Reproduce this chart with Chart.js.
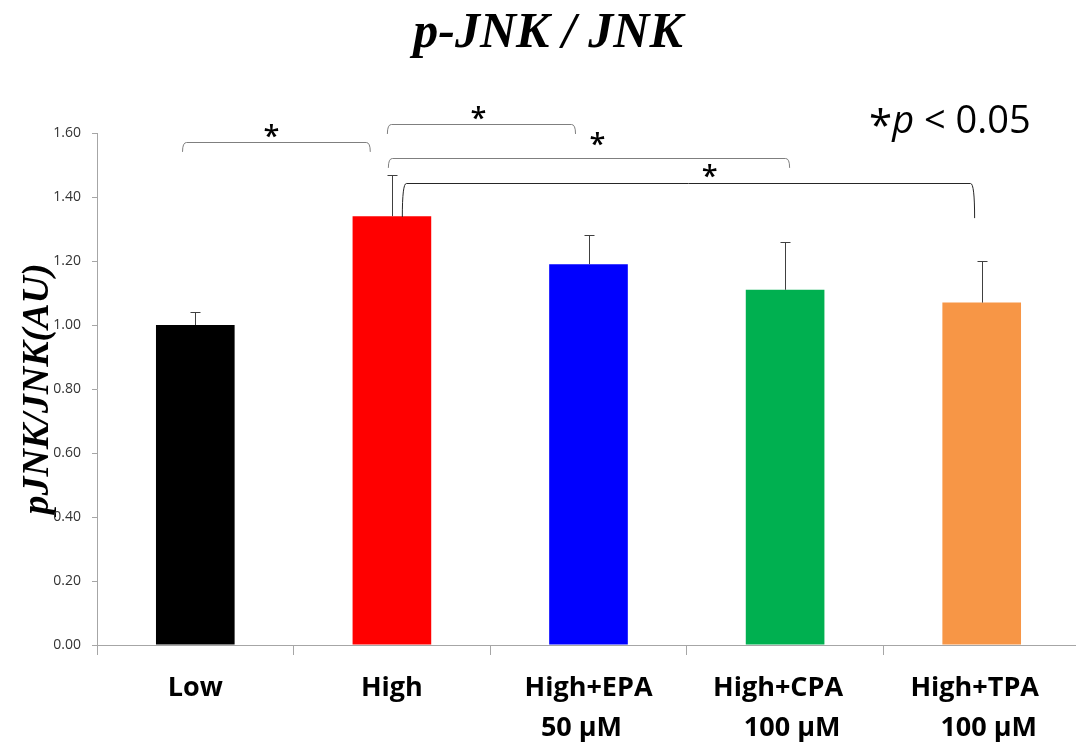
<!DOCTYPE html>
<html>
<head>
<meta charset="utf-8">
<script src="https://cdn.jsdelivr.net/npm/chart.js@4.4.1/dist/chart.umd.min.js"></script>
<style>
  html, body { margin: 0; padding: 0; background: #fff; overflow: hidden; }
  #wrap { width: 1100px; height: 747px; }
</style>
</head>
<body>
<div id="wrap"><canvas id="chart" width="1100" height="747"></canvas></div>
<script>
// categorias (los espacios desplazan cada linea como en la figura)
const categories = [
  ['Low'],
  ['High'],
  ['High+EPA', '50 µM  '],
  ['High+CPA  ', '  100 µM'],
  ['High+TPA  ', '  100 µM']
];
const values = [1.00, 1.34, 1.19, 1.11, 1.07];
const errors = [0.04, 0.13, 0.09, 0.15, 0.13];
const barColors = ['#000000', '#ff0000', '#0000ff', '#00b050', '#f79646'];
const yTicks = [0, 0.2, 0.4, 0.6, 0.8, 1.0, 1.2, 1.4, 1.6];

// corchetes de significancia: x en indice de categoria, y en unidades del eje
const brackets = [
  { from: -0.065, to: 0.89, y: 1.572, leftEnd: 1.541, rightEnd: 1.541, starX: 0.387, starY: 1.61, color: '#7f7f7f' },
  { from: 0.977, to: 1.934, y: 1.628, leftEnd: 1.597, rightEnd: 1.597, starX: 1.44, starY: 1.666, color: '#7f7f7f' },
  { from: 0.982, to: 3.023, y: 1.522, leftEnd: 1.491, rightEnd: 1.491, starX: 2.046, starY: 1.584, color: '#7f7f7f' },
  { from: 1.053, to: 3.964, y: 1.444, leftEnd: 1.3375, rightEnd: 1.334, starX: 2.616, starY: 1.484, color: '#262626' }
];

const annotations = {
  id: 'annotations',
  afterDatasetsDraw(chart) {
    const ctx = chart.ctx;
    const x = chart.scales.x;
    const y = chart.scales.y;
    ctx.save();

    // barras de error (solo hacia arriba)
    ctx.strokeStyle = '#404040';
    ctx.lineWidth = 1;
    values.forEach((v, i) => {
      const px = Math.round(x.getPixelForValue(i)) + 0.5;
      const top = y.getPixelForValue(v);
      const end = Math.round(y.getPixelForValue(v + errors[i])) + 0.5;
      ctx.beginPath();
      ctx.moveTo(px, top);
      ctx.lineTo(px, end);
      ctx.moveTo(px - 5, end);
      ctx.lineTo(px + 5, end);
      ctx.stroke();
    });

    // corchetes y asteriscos
    brackets.forEach(b => {
      const x1 = x.getPixelForValue(b.from);
      const x2 = x.getPixelForValue(b.to);
      const yy = Math.round(y.getPixelForValue(b.y)) + 0.5;
      const y1 = y.getPixelForValue(b.leftEnd);
      const y2 = y.getPixelForValue(b.rightEnd);
      ctx.strokeStyle = b.color;
      ctx.lineWidth = 1;
      ctx.beginPath();
      ctx.moveTo(x1, y1);
      ctx.quadraticCurveTo(x1, yy, x1 + 4, yy);
      ctx.lineTo(x2 - 4, yy);
      ctx.quadraticCurveTo(x2, yy, x2, y2);
      ctx.stroke();

      ctx.fillStyle = '#000';
      ctx.font = '600 29px "Open Sans"';
      ctx.textAlign = 'center';
      ctx.textBaseline = 'alphabetic';
      ctx.fillText('*', x.getPixelForValue(b.starX), y.getPixelForValue(b.starY) + 0.56 * 29);
    });

    // nota *p < 0.05
    const base = chart.chartArea.top;
    let nx = 869;
    ctx.textAlign = 'left';
    ctx.textBaseline = 'alphabetic';
    ctx.font = '42px "Open Sans"';
    ctx.fillText('*', nx, base + 7);
    nx += ctx.measureText('*').width;
    ctx.font = 'italic 38px "Open Sans"';
    ctx.fillText('p', nx, base);
    nx += ctx.measureText('p').width;
    ctx.font = '38px "Open Sans"';
    ctx.fillText(' < 0.05', nx, base);
    ctx.restore();
  }
};

new Chart(document.getElementById('chart'), {
  type: 'bar',
  data: {
    labels: categories,
    datasets: [{
      data: values,
      backgroundColor: barColors,
      borderWidth: 0,
      categoryPercentage: 1,
      barPercentage: 0.4
    }]
  },
  options: {
    responsive: false,
    animation: false,
    layout: { padding: { left: 16, right: 20, top: 0, bottom: 0 } },
    plugins: {
      legend: { display: false },
      tooltip: { enabled: false },
      title: {
        display: true,
        text: 'p-JNK / JNK',
        color: '#000',
        font: { family: '"Liberation Serif"', size: 50, style: 'italic', weight: 'bold', lineHeight: 1.2 },
        padding: { top: 4, bottom: 69 }
      }
    },
    scales: {
      x: {
        grid: { drawOnChartArea: false, tickLength: 10, color: '#a6a6a6' },
        border: { color: '#a6a6a6' },
        ticks: {
          color: '#000',
          font: { family: '"Open Sans"', size: 27, weight: 'bold', lineHeight: 1.48 },
          padding: 13,
          maxRotation: 0,
          autoSkip: false
        },
        afterFit(scale) { scale.height = 102; }
      },
      y: {
        min: 0,
        max: 1.6,
        grid: { drawOnChartArea: false, tickLength: 5, color: '#a6a6a6' },
        border: { color: '#a6a6a6' },
        afterBuildTicks(scale) { scale.ticks = yTicks.map(v => ({ value: v })); },
        ticks: {
          color: '#333',
          font: { family: '"Open Sans"', size: 14 },
          padding: 11,
          callback: v => v.toFixed(2)
        },
        title: {
          display: true,
          text: 'pJNK/JNK(AU)',
          color: '#000',
          font: { family: '"Liberation Serif"', size: 38, style: 'italic', weight: 'bold', lineHeight: 1.2 },
          padding: { top: -1, bottom: 0 }
        },
        afterFit(scale) { scale.width = 81; }
      }
    }
  },
  plugins: [annotations]
});
</script>
</body>
</html>
